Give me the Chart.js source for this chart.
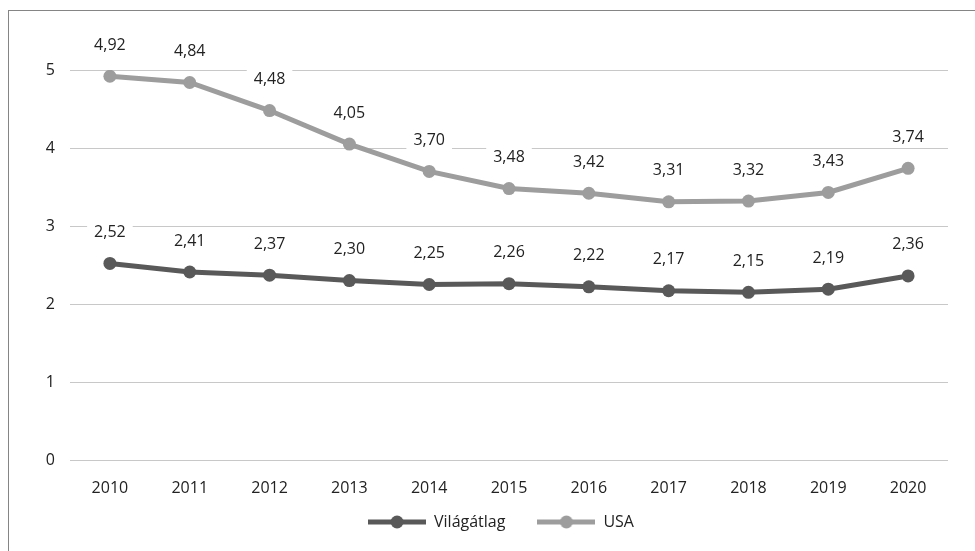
<!DOCTYPE html>
<html>
<head>
<meta charset="utf-8">
<script src="https://cdn.jsdelivr.net/npm/chart.js@4.4.0/dist/chart.umd.min.js"></script>
<style>
  html, body { margin: 0; padding: 0; background: #fff; }
  #wrap { position: relative; width: 975px; height: 551px; overflow: hidden; }
  #frame { position: absolute; left: 8px; top: 10px; width: 1100px; height: 700px;
           border-left: 1.5px solid #858585; border-top: 1.5px solid #858585; }
  #chart { position: absolute; left: 0; top: 0; }
</style>
</head>
<body>
<div id="wrap">
  <div id="frame"></div>
  <canvas id="chart" width="975" height="551"></canvas>
</div>
<script>
const years = ["2010", "2011", "2012", "2013", "2014", "2015", "2016", "2017", "2018", "2019", "2020"];
const vilagatlag = [2.52, 2.41, 2.37, 2.30, 2.25, 2.26, 2.22, 2.17, 2.15, 2.19, 2.36];
const usa = [4.92, 4.84, 4.48, 4.05, 3.70, 3.48, 3.42, 3.31, 3.32, 3.43, 3.74];
const yTicks = [0, 1, 2, 3, 4, 5];

const darkGrey = "#595959";
const lightGrey = "#9d9d9d";
const textCol = "#222";
const fontFam = "'Open Sans', 'Noto Sans', sans-serif";

// legend swatch: line with a dot in the middle
function swatch(color) {
  const c = document.createElement("canvas");
  c.width = 58; c.height = 14;
  const g = c.getContext("2d");
  g.strokeStyle = color;
  g.lineWidth = 5;
  g.beginPath(); g.moveTo(0, 7); g.lineTo(58, 7); g.stroke();
  g.fillStyle = color;
  g.beginPath(); g.arc(29, 7, 6.5, 0, Math.PI * 2); g.fill();
  return c;
}

// value labels above the points
const valueLabels = {
  id: "valueLabels",
  afterDatasetsDraw(chart) {
    const ctx = chart.ctx;
    ctx.save();
    ctx.font = "16px " + fontFam;
    ctx.textAlign = "center";
    ctx.textBaseline = "middle";
    chart.data.datasets.forEach((ds, i) => {
      chart.getDatasetMeta(i).data.forEach((pt, j) => {
        const txt = ds.data[j].toFixed(2).replace(".", ",");
        const w = ctx.measureText(txt).width;
        const y = pt.y - 31;
        ctx.fillStyle = "#fff";
        ctx.fillRect(pt.x - w / 2 - 7, y - 10, w + 14, 20);
        ctx.fillStyle = textCol;
        ctx.fillText(txt, pt.x, y);
      });
    });
    ctx.restore();
  }
};

// put the legend row just under the year labels
const legendTop = 482;
const legendShift = {
  id: "legendShift",
  afterLayout(chart) {
    const lg = chart.legend;
    const h = lg.bottom - lg.top;
    lg.top = legendTop;
    lg.bottom = legendTop + h;
    lg.left -= 8;
    lg.right -= 8;
  }
};

new Chart(document.getElementById("chart"), {
  type: "line",
  data: {
    labels: years,
    datasets: [
      {
        label: "Világátlag",
        data: vilagatlag,
        borderColor: darkGrey,
        backgroundColor: darkGrey,
        borderWidth: 5,
        pointRadius: 6.5,
        pointBorderWidth: 0,
        pointBackgroundColor: darkGrey,
        tension: 0
      },
      {
        label: "USA",
        data: usa,
        borderColor: lightGrey,
        backgroundColor: lightGrey,
        borderWidth: 5,
        pointRadius: 6.5,
        pointBorderWidth: 0,
        pointBackgroundColor: lightGrey,
        tension: 0
      }
    ]
  },
  options: {
    responsive: false,
    animation: false,
    layout: { padding: { top: 70, right: 27, left: 0, bottom: -7 } },
    plugins: {
      tooltip: { enabled: false },
      legend: {
        position: "bottom",
        fullSize: false,
        labels: {
          usePointStyle: true,
          pointStyleWidth: 58,
          padding: 32,
          color: textCol,
          font: { family: fontFam, size: 16 },
          generateLabels(chart) {
            return chart.data.datasets.map((ds, i) => ({
              text: ds.label,
              pointStyle: swatch(ds.borderColor),
              fontColor: textCol,
              lineWidth: 0,
              datasetIndex: i
            }));
          }
        }
      }
    },
    scales: {
      x: {
        offset: true,
        grid: { display: false },
        border: { display: false },
        ticks: { color: textCol, font: { family: fontFam, size: 16 }, padding: 11 },
        afterFit(s) { s.height = 40; }
      },
      y: {
        min: 0,
        max: 5,
        afterBuildTicks(s) { s.ticks = yTicks.map(v => ({ value: v })); },
        grid: { color: "#c8c8c8", lineWidth: 1, drawTicks: false },
        border: { display: false },
        ticks: { color: textCol, font: { family: fontFam, size: 16 }, padding: 15 },
        afterFit(s) { s.width = 70; }
      }
    }
  },
  plugins: [valueLabels, legendShift]
});
</script>
</body>
</html>
